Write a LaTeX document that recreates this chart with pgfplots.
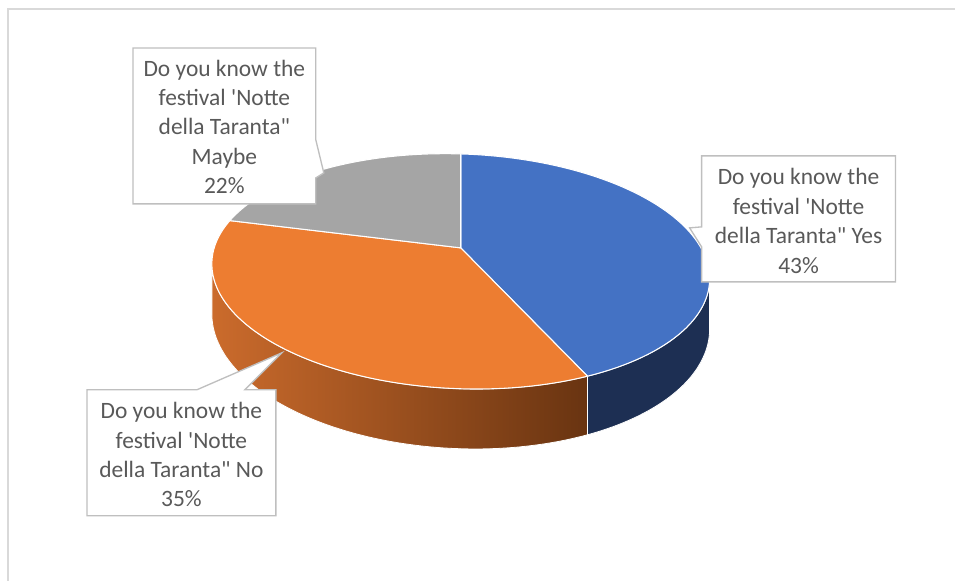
\documentclass[border=0pt]{standalone}
\usepackage{pgfplots}
\pgfplotsset{compat=1.18}
\usepackage{pgfplotstable}
\usepackage{fontspec}
\setmainfont{Carlito}
\newfontfamily\lbl{Carlito}
\definecolor{cBlue}{HTML}{4472C4}
\definecolor{cOrange}{HTML}{ED7D31}
\definecolor{cGray}{HTML}{A5A5A5}
\definecolor{cBlueSide}{HTML}{1D2F53}
\definecolor{cOrSideL}{HTML}{CB6B2C}
\definecolor{cOrSideR}{HTML}{693411}
\definecolor{cBorder}{HTML}{BFBFBF}
\definecolor{cText}{HTML}{595959}
\definecolor{cFrame}{HTML}{D9D9D9}

\pgfplotstableread{
answer value
Yes 43
No 35
Maybe 22
}\piedata

\begin{document}
\pgfplotstablegetelem{0}{value}\of\piedata \pgfmathsetmacro\vA{\pgfplotsretval}%
\pgfplotstablegetelem{1}{value}\of\piedata \pgfmathsetmacro\vB{\pgfplotsretval}%
\pgfplotstablegetelem{2}{value}\of\piedata \pgfmathsetmacro\vC{\pgfplotsretval}%
\pgfmathsetmacro\tot{\vA+\vB+\vC}%
\pgfmathsetmacro\aA{\vA/\tot*360}%
\pgfmathsetmacro\aB{(\vA+\vB)/\tot*360}%
\pgfmathsetmacro\sR{acos(-0.2)}%
\pgfmathsetmacro\sL{360-acos(-0.2)}%
\begin{tikzpicture}
\begin{axis}[
  width=717pt, height=435.75pt, scale only axis,
  xmin=0, xmax=956, ymin=0, ymax=581, y dir=reverse,
  hide axis, clip=false,
  declare function={
    ff(\t)=1/(1+0.2*cos(\t));
    px(\t)=461+244*sin(\t)*ff(\t);
    py(\t)=248+(-112.8*cos(\t)+7.3*sin(\t))*ff(\t);
    su(\u,\a,\b)=(\u<=1) ? (\a+\u*(\b-\a)) : ((\u<=2) ? \b : (\b-(\u-2)*(\b-\a)));
    sd(\u)=(\u<=1) ? 0 : ((\u<=2) ? (\u-1) : 1);
  },
]
\path (0,0) rectangle (956,581);
\draw[cFrame, line width=0.8pt] (8,581) -- (8,9) -- (956,9);

% sides
\addplot[draw=white, line width=0.6pt, fill=cBlueSide, domain=0:3, samples=241, variable=\u]
  ({px(su(\u,\sR,\aA))}, {py(su(\u,\sR,\aA))+48*sd(\u)*ff(su(\u,\sR,\aA))}) -- cycle;
\addplot[draw=white, line width=0.6pt, left color=cOrSideL, right color=cOrSideR, domain=0:3, samples=241, variable=\u]
  ({px(su(\u,\aA,\sL))}, {py(su(\u,\aA,\sL))+48*sd(\u)*ff(su(\u,\aA,\sL))}) -- cycle;

% top faces
\addplot[fill=cBlue, draw=white, line width=0.8pt, line join=round, domain=0:\aA, samples=90, variable=\u]
  ({px(\u)},{py(\u)}) -- (461,248) -- cycle;
\addplot[fill=cOrange, draw=white, line width=0.8pt, line join=round, domain=\aA:\aB, samples=90, variable=\u]
  ({px(\u)},{py(\u)}) -- (461,248) -- cycle;
\addplot[fill=cGray, draw=white, line width=0.8pt, line join=round, domain=\aB:360, samples=60, variable=\u]
  ({px(\u)},{py(\u)}) -- (461,248) -- cycle;

% callouts
\draw[cBorder, fill=white, line width=1pt] (133,48) -- (316,48) -- (316,140) -- (324,173) -- (316,178) -- (316,204) -- (133,204) -- cycle;
\draw[cBorder, fill=white, line width=1pt] (702,156) -- (896,156) -- (896,282) -- (702,282) -- (702,247) -- (690,228) -- (702,227) -- cycle;
\draw[cBorder, fill=white, line width=1pt] (87,390) -- (197,390) -- (282,353) -- (245,390) -- (276,390) -- (276,516) -- (87,516) -- cycle;

\node[align=center, text=cText, font=\lbl\fontsize{17.6}{22.1}\selectfont] at (224.5,127)
  {Do you know the\\festival 'Notte\\della Taranta"\\Maybe\\22\%};
\node[align=center, text=cText, font=\lbl\fontsize{17.6}{22.1}\selectfont] at (799,221)
  {Do you know the\\festival 'Notte\\della Taranta" Yes\\43\%};
\node[align=center, text=cText, font=\lbl\fontsize{17.6}{22.1}\selectfont] at (181.5,455)
  {Do you know the\\festival 'Notte\\della Taranta" No\\35\%};
\end{axis}
\end{tikzpicture}
\end{document}
